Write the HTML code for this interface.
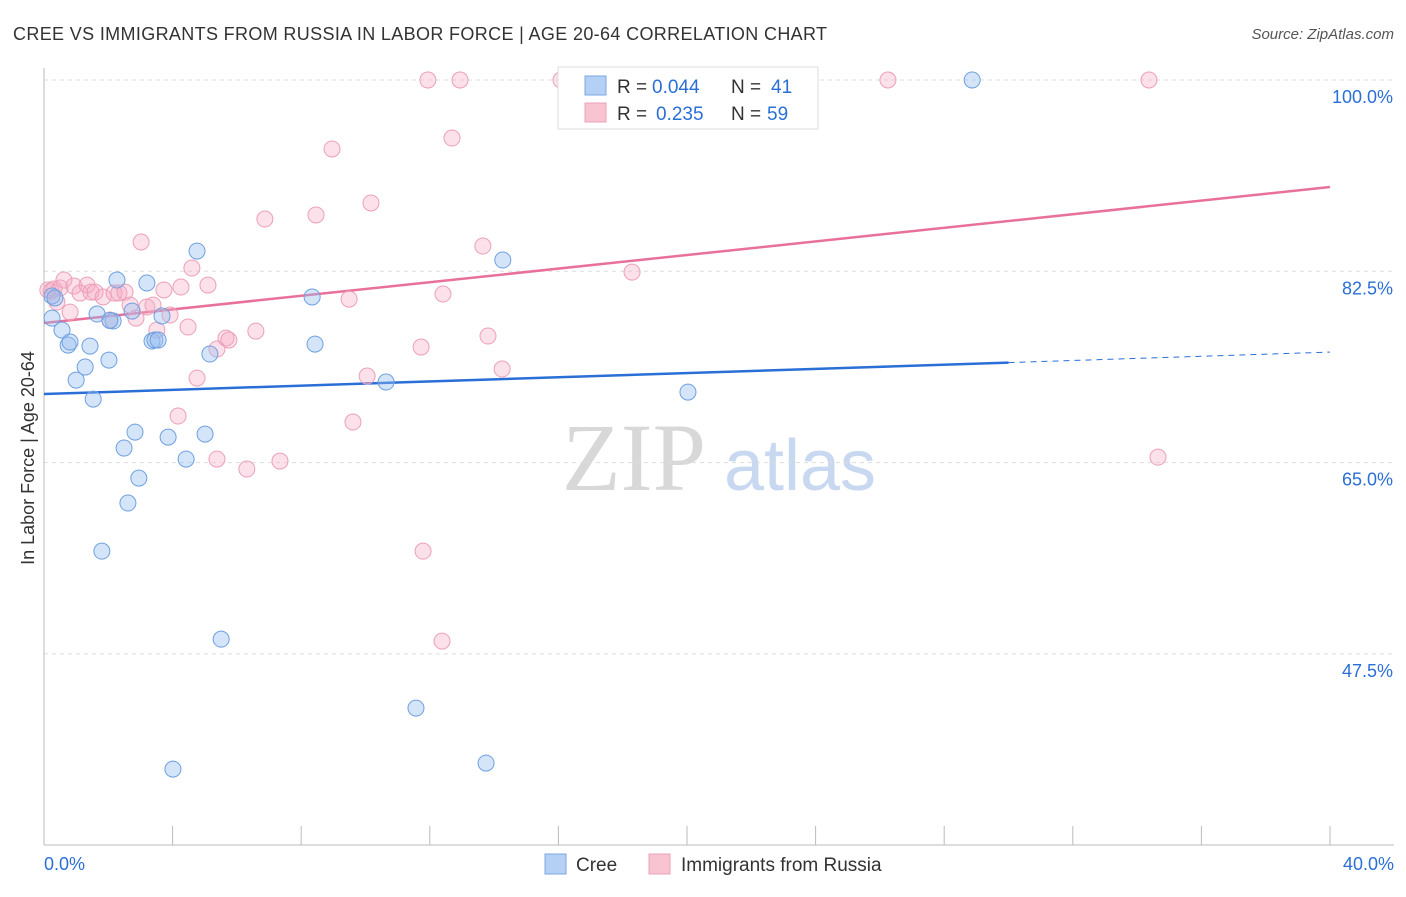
<!DOCTYPE html>
<html><head><meta charset="utf-8"><style>
body{margin:0;background:#fff;font-family:"Liberation Sans",sans-serif;}
</style></head><body>
<svg id="chart" width="1406" height="892" xmlns="http://www.w3.org/2000/svg">
<text x="13" y="40" font-size="18" fill="#333" letter-spacing="0.35">CREE VS IMMIGRANTS FROM RUSSIA IN LABOR FORCE | AGE 20-64 CORRELATION CHART</text>
<text x="1394" y="39" font-size="15" fill="#555" font-style="italic" text-anchor="end">Source: ZipAtlas.com</text>
<text x="634" y="490" font-size="96" fill="#d8d8d8" font-family="Liberation Serif,serif" text-anchor="middle">ZIP</text>
<text x="800" y="490" font-size="72" fill="#c8d8f0" text-anchor="middle">atlas</text>
<text transform="translate(34,458) rotate(-90)" font-size="18" fill="#333" text-anchor="middle">In Labor Force | Age 20-64</text>
<g id="grid"></g><g id="lines"></g><g id="pts"></g>
<g>
<rect x="558" y="67" width="260" height="62" fill="#fff" stroke="#ddd"/>
<rect x="585" y="76" width="21" height="19" fill="#b4d0f4" stroke="#7aa8e4"/>
<rect x="585" y="103" width="21" height="19" fill="#f8c4d2" stroke="#eca0b8"/>
<text x="617" y="93" font-size="19" fill="#333">R =</text>
<text x="652" y="93" font-size="19" fill="#2a6fd6">0.044</text>
<text x="731" y="93" font-size="19" fill="#333">N =</text>
<text x="771" y="93" font-size="19" fill="#2a6fd6">41</text>
<text x="617" y="120" font-size="19" fill="#333">R =</text>
<text x="656" y="120" font-size="19" fill="#2a6fd6">0.235</text>
<text x="731" y="120" font-size="19" fill="#333">N =</text>
<text x="767" y="120" font-size="19" fill="#2a6fd6">59</text>
</g>
<g>
<rect x="545" y="854" width="21" height="20" fill="#b4d0f4" stroke="#7aa8e4"/>
<text x="576" y="871" font-size="19" fill="#333">Cree</text>
<rect x="649" y="854" width="21" height="20" fill="#f8c4d2" stroke="#eca0b8"/>
<text x="681" y="871" font-size="19" fill="#333">Immigrants from Russia</text>
</g>
</svg>
<script>
const yTicks=[100,82.5,65,47.5];
const yTickLabels=["100.0%","82.5%","65.0%","47.5%"];
const xTickLabels=["0.0%","40.0%"];
const creeX=[0.25,0.34,0.25,0.56,0.75,0.81,1.00,1.28,1.43,1.53,1.65,1.80,2.02,2.15,2.27,2.49,2.61,2.74,2.83,2.95,3.20,3.36,3.45,3.55,3.67,3.86,4.01,4.42,4.76,5.01,5.16,5.51,8.34,8.43,10.64,11.57,13.75,14.27,20.03,28.87,2.05];
const creeY=[80.24,80.06,78.22,77.12,75.75,76.03,72.55,73.74,75.66,70.81,78.59,56.90,74.38,77.95,81.70,66.33,61.30,78.86,67.79,63.58,81.43,76.12,76.21,76.21,78.41,67.33,36.96,65.32,84.35,67.61,74.93,48.85,80.15,75.84,72.37,42.54,37.51,83.53,71.45,100,78.0];
const rusX=[0.12,0.22,0.31,0.40,0.50,0.62,0.81,0.93,1.12,1.34,1.46,1.59,1.84,2.05,2.18,2.33,2.52,2.68,2.86,3.02,3.20,3.39,3.51,3.73,3.92,4.17,4.26,4.48,4.60,4.76,5.10,5.38,5.38,5.66,5.75,6.31,6.59,6.87,7.34,8.46,8.96,9.49,9.61,10.05,10.17,11.73,11.79,11.94,12.38,12.41,12.69,12.94,13.65,13.81,14.25,16.08,18.29,26.25,34.37,34.65];
const rusY=[80.79,80.70,80.88,79.69,80.97,81.70,78.77,81.15,80.51,81.24,80.60,80.60,80.15,78.04,80.51,80.51,80.60,79.41,78.22,85.18,79.23,79.41,77.12,80.79,78.50,69.26,81.06,77.40,82.80,72.73,81.24,65.32,75.39,76.39,76.21,64.41,77.03,87.28,65.14,87.65,93.69,79.96,68.71,72.92,88.75,75.57,56.90,100,48.67,80.42,94.69,100,84.81,76.58,73.56,100,82.43,100,100,65.50];
const creeFit=[71.27,75.11];
const rusFit=[77.77,90.21];
const NS="http://www.w3.org/2000/svg";
const sx=v=>44+v/40*1286;
const sy=v=>80+(100-v)/17.5*191.3;
function mk(t,a,p){const e=document.createElementNS(NS,t);for(const k in a)e.setAttribute(k,a[k]);p.appendChild(e);return e;}
const grid=document.getElementById('grid');
yTicks.forEach((t,i)=>{
 const l=mk('line',{x1:44,x2:1394,y1:sy(t),y2:sy(t),stroke:'#ddd','stroke-dasharray':'4,4'},grid);
 
 
 const tx=mk('text',{x:1393,y:sy(t)+23,'font-size':18,fill:'#2a6fd6','text-anchor':'end'},grid);
 tx.textContent=yTickLabels[i];
 
 
});
mk('line',{x1:44,x2:44,y1:68,y2:845,stroke:'#bbb'},grid);
mk('line',{x1:44,x2:1394,y1:845,y2:845,stroke:'#bbb'},grid);
for(let i=0;i<=10;i++){mk('line',{x1:sx(i*4),x2:sx(i*4),y1:826,y2:845,stroke:'#bbb'},grid);}
[[0,'start',44],[1,'end',1394]].forEach(([i,a,x])=>{const t=mk('text',{x:x,y:870,'font-size':18,fill:'#2a6fd6','text-anchor':a},grid);t.textContent=xTickLabels[i];
 
 });
const pts=document.getElementById('pts');
rusX.forEach((x,i)=>{const c=mk('circle',{cx:sx(x),cy:sy(rusY[i]),r:8,fill:'rgba(245,170,195,0.35)',stroke:'#eca0b8','stroke-width':1},pts);
 
 });
creeX.forEach((x,i)=>{const c=mk('circle',{cx:sx(x),cy:sy(creeY[i]),r:8,fill:'rgba(150,190,240,0.4)',stroke:'#6fa0e0','stroke-width':1},pts);
 
 });
const lines=document.getElementById('lines');
const fy=(f,x)=>f[0]+(f[1]-f[0])*x/40;
const b1=mk('line',{x1:sx(0),y1:sy(fy(creeFit,0)),x2:sx(30),y2:sy(fy(creeFit,30)),stroke:'#2a6fd6','stroke-width':2.5},lines);


const b2=mk('line',{x1:sx(30),y1:sy(fy(creeFit,30)),x2:sx(40),y2:sy(fy(creeFit,40)),stroke:'#2a6fd6','stroke-width':1,'stroke-dasharray':'6,5'},lines);


const p1=mk('line',{x1:sx(0),y1:sy(rusFit[0]),x2:sx(40),y2:sy(rusFit[1]),stroke:'#e8709a','stroke-width':2.5},lines);


</script>
</body></html>
